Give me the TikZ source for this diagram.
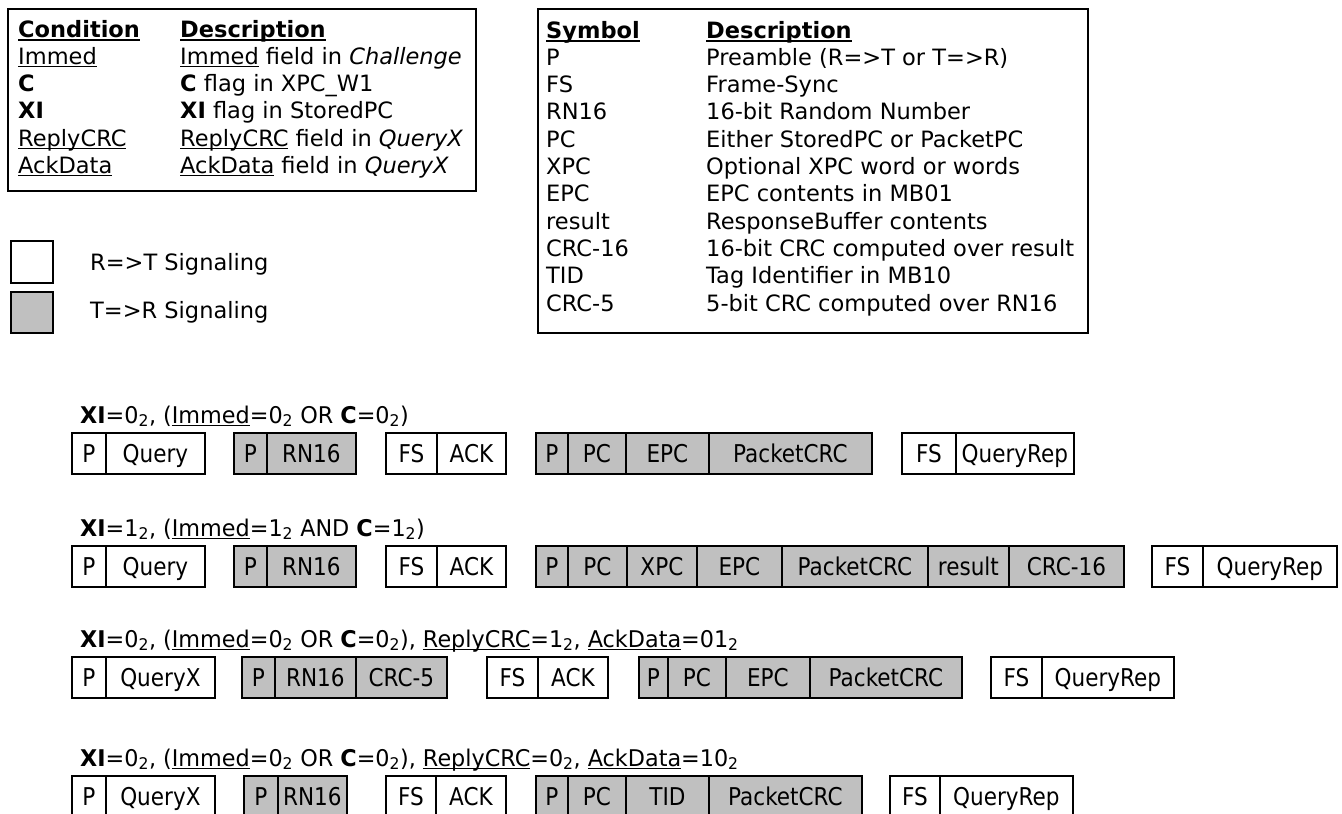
\documentclass[tikz,border=0pt]{standalone}
\usepackage{fontspec}
\setmainfont{DejaVu Sans}
\newfontfamily\seqfont[FakeStretch=0.88]{DejaVu Sans}
\newfontfamily\lblfont[FakeStretch=0.97]{DejaVu Sans}
\newcommand{\myul}[1]{\setbox0\hbox{#1}\rlap{\rule[-3pt]{\wd0}{1.3pt}}\box0\relax}
\newcommand{\myulb}[1]{\setbox0\hbox{#1}\rlap{\rule[-3.5pt]{\wd0}{2pt}}\box0\relax}
\newcommand{\tb}[1]{\textsubscript{#1}}
\definecolor{tgray}{RGB}{192,192,192}
\tikzset{
  tbl/.style={draw, line width=2pt, anchor=north west, inner sep=0pt},
  txt/.style={anchor=base west, inner sep=0pt, font=\fontsize{22.5}{27}\selectfont},
  seqbox/.style={draw, line width=1.8pt, inner sep=0pt, minimum height=41pt, text height=19.5pt, text depth=2pt, anchor=north west, font=\seqfont\fontsize{24.5}{28}\selectfont},
  lbl/.style={anchor=base west, inner sep=0pt, font=\lblfont\fontsize{23}{28}\selectfont},
}
\newcommand{\seqcell}[6]{\node[seqbox,fill=#5,minimum width={#3-#2}] (#1) at (#2,#4) {#6};}
\begin{document}
\begin{tikzpicture}[x=1pt,y=-1pt]
\useasboundingbox[fill=white] (0,0) rectangle (1342,814);
% condition table
\node[tbl, minimum width=468pt, minimum height=182pt] (condbox) at (7,8) {};
\node[txt] (ch1) at (18,37) {\myulb{\textbf{Condition}}};
\node[txt] (ch2) at (180,37) {\myulb{\textbf{Description}}};
\node[txt] (c1a) at (18,64) {\myul{Immed}};
\node[txt] (c1b) at (180,64) {\myul{Immed} field in \textit{Challenge}};
\node[txt] (c2a) at (18,91) {\textbf{C}};
\node[txt] (c2b) at (180,91) {\textbf{C} flag in XPC\_W1};
\node[txt] (c3a) at (18,118) {\textbf{XI}};
\node[txt] (c3b) at (180,118) {\textbf{XI} flag in StoredPC};
\node[txt] (c4a) at (18,146) {\myul{ReplyCRC}};
\node[txt] (c4b) at (180,146) {\myul{ReplyCRC} field in \textit{QueryX}};
\node[txt] (c5a) at (18,173) {\myul{AckData}};
\node[txt] (c5b) at (180,173) {\myul{AckData} field in \textit{QueryX}};
% legend
\node[tbl, minimum width=42pt, minimum height=42pt, fill=white] (legw) at (10,240) {};
\node[tbl, minimum width=42pt, minimum height=41pt, fill=tgray] (legg) at (10,291) {};
\node[txt] (legwt) at (90,270) {R=>T Signaling};
\node[txt] (leggt) at (90,318) {T=>R Signaling};
% symbol table
\node[tbl, minimum width=550pt, minimum height=324pt] (symbox) at (537,8) {};
\node[txt] (sh1) at (546,38) {\myulb{\textbf{Symbol}}};
\node[txt] (sh2) at (706,38) {\myulb{\textbf{Description}}};
\foreach \s/\d [count=\i] in {P/Preamble (R=>T or T=>R), FS/Frame-Sync, RN16/16-bit Random Number, PC/Either StoredPC or PacketPC, XPC/Optional XPC word or words, EPC/EPC contents in MB01, result/ResponseBuffer contents, CRC-16/16-bit CRC computed over result, TID/Tag Identifier in MB10, CRC-5/5-bit CRC computed over RN16}{
  \node[txt] (sa\i) at (546,{38+27.3*\i}) {\s};
  \node[txt] (sb\i) at (706,{38+27.3*\i}) {\d};
}
% row 1
\node[lbl] (l1) at (80,423) {\textbf{XI}=0\tb{2}, (\myul{Immed}=0\tb{2} OR \textbf{C}=0\tb{2})};
\seqcell{r1a}{71}{105}{432}{white}{P}
\seqcell{r1b}{105}{204}{432}{white}{Query}
\seqcell{r1c}{233}{266}{432}{tgray}{P}
\seqcell{r1d}{266}{355}{432}{tgray}{RN16}
\seqcell{r1e}{385}{436}{432}{white}{FS}
\seqcell{r1f}{436}{505}{432}{white}{ACK}
\seqcell{r1g}{535}{567}{432}{tgray}{P}
\seqcell{r1h}{567}{625}{432}{tgray}{PC}
\seqcell{r1i}{625}{708}{432}{tgray}{EPC}
\seqcell{r1j}{708}{871}{432}{tgray}{PacketCRC}
\seqcell{r1k}{901}{955}{432}{white}{FS}
\seqcell{r1l}{955}{1073}{432}{white}{QueryRep}
% row 2
\node[lbl] (l2) at (80,536) {\textbf{XI}=1\tb{2}, (\myul{Immed}=1\tb{2} AND \textbf{C}=1\tb{2})};
\seqcell{r2a}{71}{105}{545}{white}{P}
\seqcell{r2b}{105}{204}{545}{white}{Query}
\seqcell{r2c}{233}{266}{545}{tgray}{P}
\seqcell{r2d}{266}{355}{545}{tgray}{RN16}
\seqcell{r2e}{385}{436}{545}{white}{FS}
\seqcell{r2f}{436}{505}{545}{white}{ACK}
\seqcell{r2g}{535}{567}{545}{tgray}{P}
\seqcell{r2h}{567}{626}{545}{tgray}{PC}
\seqcell{r2i}{626}{696}{545}{tgray}{XPC}
\seqcell{r2j}{696}{781}{545}{tgray}{EPC}
\seqcell{r2k}{781}{927}{545}{tgray}{PacketCRC}
\seqcell{r2l}{927}{1008}{545}{tgray}{result}
\seqcell{r2m}{1008}{1123}{545}{tgray}{CRC-16}
\seqcell{r2n}{1151}{1202}{545}{white}{FS}
\seqcell{r2o}{1202}{1336}{545}{white}{QueryRep}
% row 3
\node[lbl] (l3) at (80,647) {\textbf{XI}=0\tb{2}, (\myul{Immed}=0\tb{2} OR \textbf{C}=0\tb{2}), \myul{ReplyCRC}=1\tb{2}, \myul{AckData}=01\tb{2}};
\seqcell{r3a}{71}{105}{656}{white}{P}
\seqcell{r3b}{105}{214}{656}{white}{QueryX}
\seqcell{r3c}{241}{274}{656}{tgray}{P}
\seqcell{r3d}{274}{355}{656}{tgray}{RN16}
\seqcell{r3e}{355}{446}{656}{tgray}{CRC-5}
\seqcell{r3f}{486}{537}{656}{white}{FS}
\seqcell{r3g}{537}{607}{656}{white}{ACK}
\seqcell{r3h}{638}{667}{656}{tgray}{P}
\seqcell{r3i}{667}{725}{656}{tgray}{PC}
\seqcell{r3j}{725}{809}{656}{tgray}{EPC}
\seqcell{r3k}{809}{961}{656}{tgray}{PacketCRC}
\seqcell{r3l}{990}{1041}{656}{white}{FS}
\seqcell{r3m}{1041}{1173}{656}{white}{QueryRep}
% row 4
\node[lbl] (l4) at (80,766) {\textbf{XI}=0\tb{2}, (\myul{Immed}=0\tb{2} OR \textbf{C}=0\tb{2}), \myul{ReplyCRC}=0\tb{2}, \myul{AckData}=10\tb{2}};
\seqcell{r4a}{71}{105}{775}{white}{P}
\seqcell{r4b}{105}{214}{775}{white}{QueryX}
\seqcell{r4c}{243}{277}{775}{tgray}{P}
\seqcell{r4d}{277}{346}{775}{tgray}{RN16}
\seqcell{r4e}{385}{435}{775}{white}{FS}
\seqcell{r4f}{435}{505}{775}{white}{ACK}
\seqcell{r4g}{535}{567}{775}{tgray}{P}
\seqcell{r4h}{567}{625}{775}{tgray}{PC}
\seqcell{r4i}{625}{708}{775}{tgray}{TID}
\seqcell{r4j}{708}{861}{775}{tgray}{PacketCRC}
\seqcell{r4k}{889}{939}{775}{white}{FS}
\seqcell{r4l}{939}{1072}{775}{white}{QueryRep}
\end{tikzpicture}
\end{document}
